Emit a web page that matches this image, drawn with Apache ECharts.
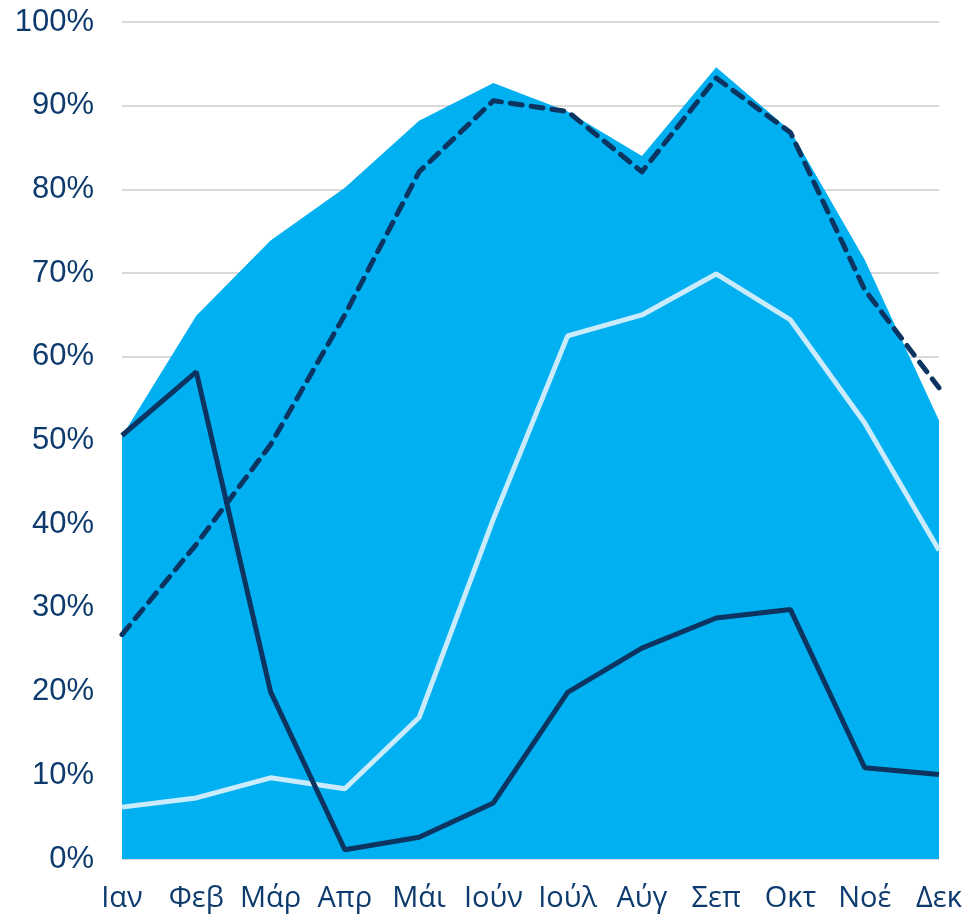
<!DOCTYPE html>
<html><head><meta charset="utf-8">
<script src="https://cdn.jsdelivr.net/npm/echarts@6/dist/echarts.min.js"></script>
<style>html,body{margin:0;padding:0;background:#fff}#c{width:971px;height:918px}</style>
</head><body><div id="c"></div>
<script>
const categories = ['Ιαν','Φεβ','Μάρ','Απρ','Μάι','Ιούν','Ιούλ','Αύγ','Σεπ','Οκτ','Νοέ','Δεκ'];
const areaValues = [50.5, 64.9, 73.9, 80.2, 88.2, 92.7, 89.3, 84.0, 94.6, 87.0, 71.6, 52.4];
const dashedValues = [26.8, 37.6, 49.5, 65.0, 82.1, 90.6, 89.3, 82.1, 93.3, 86.8, 68.0, 56.3];
const lightValues = [6.2, 7.3, 9.7, 8.4, 16.9, 40.6, 62.5, 65.0, 69.9, 64.4, 52.1, 36.9];
const darkValues = [50.6, 58.2, 20.0, 1.1, 2.6, 6.7, 19.9, 25.2, 28.8, 29.8, 10.9, 10.1];

const chart = echarts.init(document.getElementById('c'));
const labelColor = '#0e3b6e';
chart.setOption({
  animation: false,
  grid: { left: 122, right: 32, top: 22, bottom: 59 },
  xAxis: {
    type: 'category', data: categories, boundaryGap: false,
    axisLine: { show: true, lineStyle: { color: '#d9d9d9', width: 1 } },
    axisTick: { show: false },
    axisLabel: { color: labelColor, fontSize: 29, fontFamily: 'Open Sans, sans-serif', margin: 25, interval: 0 }
  },
  yAxis: {
    type: 'value', min: 0, max: 100, interval: 10,
    axisLine: { show: false }, axisTick: { show: false },
    splitLine: { lineStyle: { color: '#d9d9d9', width: 2 } },
    axisLabel: { color: labelColor, fontSize: 31, fontFamily: 'Liberation Sans, Arial, sans-serif', margin: 28, formatter: '{value}%' }
  },
  series: [
    { type: 'line', data: areaValues, symbol: 'none', lineStyle: { width: 0 },
      areaStyle: { color: '#00b0f0', opacity: 1 }, z: 1 },
    { type: 'line', data: lightValues, symbol: 'none',
      lineStyle: { color: '#c9ebfc', width: 5 }, z: 3 },
    { type: 'line', data: darkValues, symbol: 'none',
      lineStyle: { color: '#0c3461', width: 5 }, z: 4 },
    { type: 'line', data: dashedValues, symbol: 'none',
      lineStyle: { color: '#0c3461', width: 5, type: [12, 9], cap: 'round', join: 'round' }, z: 5 }
  ]
});
</script></body></html>
